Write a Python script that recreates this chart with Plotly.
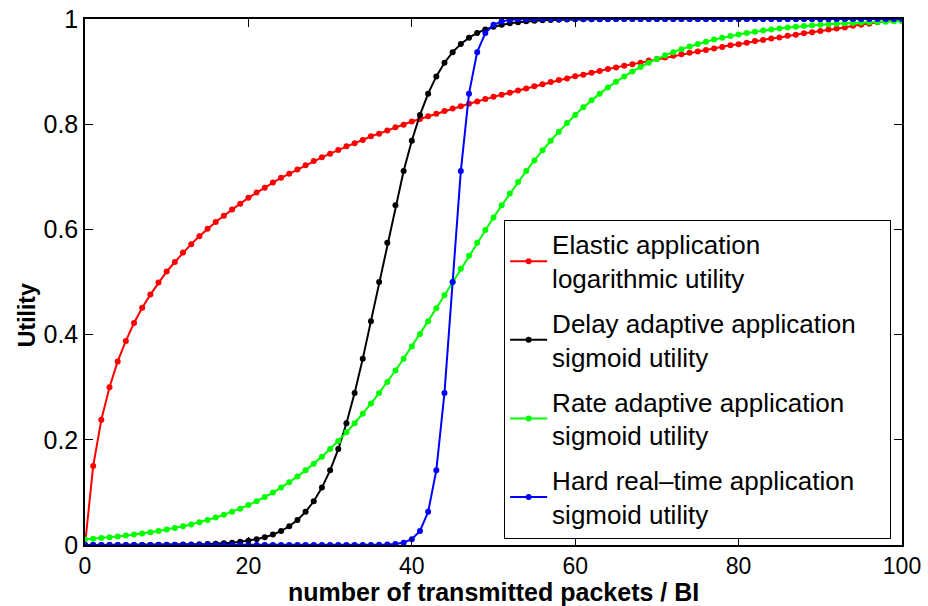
import plotly.graph_objects as go

x_values = list(range(0, 101))

elastic_log = [
    0.000, 0.150, 0.238, 0.300, 0.349, 0.388, 0.422, 0.451, 0.476, 0.499,
    0.520, 0.538, 0.556, 0.572, 0.587, 0.601, 0.614, 0.626, 0.638, 0.649,
    0.660, 0.670, 0.679, 0.689, 0.698, 0.706, 0.714, 0.722, 0.730, 0.737,
    0.744, 0.751, 0.758, 0.764, 0.770, 0.777, 0.782, 0.788, 0.794, 0.799,
    0.805, 0.810, 0.815, 0.820, 0.825, 0.830, 0.834, 0.839, 0.843, 0.848,
    0.852, 0.856, 0.860, 0.864, 0.868, 0.872, 0.876, 0.880, 0.884, 0.887,
    0.891, 0.894, 0.898, 0.901, 0.905, 0.908, 0.911, 0.914, 0.917, 0.921,
    0.924, 0.927, 0.930, 0.933, 0.936, 0.938, 0.941, 0.944, 0.947, 0.950,
    0.952, 0.955, 0.958, 0.960, 0.963, 0.965, 0.968, 0.970, 0.973, 0.975,
    0.977, 0.980, 0.982, 0.984, 0.987, 0.989, 0.991, 0.994, 0.996, 0.998,
    1.000,
]

delay_sigmoid = [
    0.0000, 0.0000, 0.0000, 0.0001, 0.0001, 0.0001, 0.0001, 0.0002, 0.0002, 0.0003,
    0.0004, 0.0006, 0.0008, 0.0010, 0.0014, 0.0018, 0.0025, 0.0033, 0.0045, 0.0061,
    0.0082, 0.0110, 0.0148, 0.0198, 0.0266, 0.0356, 0.0474, 0.0630, 0.0832, 0.1091,
    0.1419, 0.1824, 0.2315, 0.2891, 0.3543, 0.4256, 0.5000, 0.5744, 0.6457, 0.7109,
    0.7685, 0.8176, 0.8581, 0.8909, 0.9168, 0.9370, 0.9526, 0.9644, 0.9734, 0.9802,
    0.9852, 0.9890, 0.9918, 0.9939, 0.9955, 0.9967, 0.9975, 0.9982, 0.9986, 0.9990,
    0.9993, 0.9994, 0.9996, 0.9997, 0.9998, 0.9998, 0.9999, 0.9999, 0.9999, 0.9999,
    1.0000, 1.0000, 1.0000, 1.0000, 1.0000, 1.0000, 1.0000, 1.0000, 1.0000, 1.0000,
    1.0000, 1.0000, 1.0000, 1.0000, 1.0000, 1.0000, 1.0000, 1.0000, 1.0000, 1.0000,
    1.0000, 1.0000, 1.0000, 1.0000, 1.0000, 1.0000, 1.0000, 1.0000, 1.0000, 1.0000,
    1.0000,
]

rate_sigmoid = [
    0.0110, 0.0121, 0.0134, 0.0148, 0.0163, 0.0180, 0.0198, 0.0219, 0.0241, 0.0266,
    0.0293, 0.0323, 0.0356, 0.0392, 0.0431, 0.0474, 0.0522, 0.0573, 0.0630, 0.0691,
    0.0759, 0.0832, 0.0911, 0.0998, 0.1091, 0.1192, 0.1301, 0.1419, 0.1545, 0.1680,
    0.1824, 0.1978, 0.2142, 0.2315, 0.2497, 0.2689, 0.2891, 0.3100, 0.3318, 0.3543,
    0.3775, 0.4013, 0.4256, 0.4502, 0.4750, 0.5000, 0.5250, 0.5498, 0.5744, 0.5987,
    0.6225, 0.6457, 0.6682, 0.6900, 0.7109, 0.7311, 0.7503, 0.7685, 0.7858, 0.8022,
    0.8176, 0.8320, 0.8455, 0.8581, 0.8699, 0.8808, 0.8909, 0.9002, 0.9089, 0.9168,
    0.9241, 0.9309, 0.9370, 0.9427, 0.9478, 0.9526, 0.9569, 0.9608, 0.9644, 0.9677,
    0.9707, 0.9734, 0.9759, 0.9781, 0.9802, 0.9820, 0.9837, 0.9852, 0.9866, 0.9879,
    0.9890, 0.9900, 0.9910, 0.9918, 0.9926, 0.9933, 0.9939, 0.9945, 0.9950, 0.9955,
    0.9959,
]

hard_sigmoid = [
    0.0000, 0.0000, 0.0000, 0.0000, 0.0000, 0.0000, 0.0000, 0.0000, 0.0000, 0.0000,
    0.0000, 0.0000, 0.0000, 0.0000, 0.0000, 0.0000, 0.0000, 0.0000, 0.0000, 0.0000,
    0.0000, 0.0000, 0.0000, 0.0000, 0.0000, 0.0000, 0.0000, 0.0000, 0.0000, 0.0000,
    0.0000, 0.0000, 0.0000, 0.0000, 0.0001, 0.0001, 0.0003, 0.0008, 0.0018, 0.0045,
    0.0110, 0.0266, 0.0630, 0.1419, 0.2891, 0.5000, 0.7109, 0.8581, 0.9370, 0.9734,
    0.9890, 0.9955, 0.9982, 0.9993, 0.9997, 0.9999, 1.0000, 1.0000, 1.0000, 1.0000,
    1.0000, 1.0000, 1.0000, 1.0000, 1.0000, 1.0000, 1.0000, 1.0000, 1.0000, 1.0000,
    1.0000, 1.0000, 1.0000, 1.0000, 1.0000, 1.0000, 1.0000, 1.0000, 1.0000, 1.0000,
    1.0000, 1.0000, 1.0000, 1.0000, 1.0000, 1.0000, 1.0000, 1.0000, 1.0000, 1.0000,
    1.0000, 1.0000, 1.0000, 1.0000, 1.0000, 1.0000, 1.0000, 1.0000, 1.0000, 1.0000,
    1.0000,
]

series_names = [
    "Elastic application<br>logarithmic utility",
    "Delay adaptive application\u00a0\u00a0\u00a0\u00a0<br>sigmoid utility",
    "Rate adaptive application<br>sigmoid utility",
    "Hard real\u2013time application<br>sigmoid utility",
]
series_values = [elastic_log, delay_sigmoid, rate_sigmoid, hard_sigmoid]
series_colors = ["#ff0000", "#000000", "#00ff00", "#0000ff"]

x_tick_values = [0, 20, 40, 60, 80, 100]
y_tick_values = [0, 0.2, 0.4, 0.6, 0.8, 1]
y_tick_labels = ["0", "0.2", "0.4", "0.6", "0.8", "1"]
x_title = "number of transmitted packets / BI"
y_title = "Utility"

FONT = "Liberation Sans, Arial, sans-serif"

fig = go.Figure()
for name, vals, col in zip(series_names, series_values, series_colors):
    fig.add_trace(go.Scatter(
        x=x_values, y=vals, name=name, mode="lines+markers",
        line=dict(color=col, width=2),
        marker=dict(color=col, size=6),
        legendgroup=name,
    ))

fig.update_layout(
    width=928, height=606,
    margin=dict(l=85, r=26, t=19, b=61),
    paper_bgcolor="white", plot_bgcolor="white",
    font=dict(family=FONT, size=25, color="black"),
    showlegend=True,
    legend=dict(
        x=0.513, y=0.618, xanchor="left", yanchor="top",
        bgcolor="white", bordercolor="black", borderwidth=1,
        font=dict(family=FONT, size=26, color="black"),
        tracegroupgap=8,
        itemwidth=37,
    ),
    xaxis=dict(
        range=[0, 100], tickvals=x_tick_values, ticktext=[str(v) for v in x_tick_values],
        ticks="inside", ticklen=8, tickcolor="black", tickwidth=1,
        showline=True, linecolor="black", linewidth=1.5, mirror="ticks",
        showgrid=False, zeroline=False, automargin=False,
        tickfont=dict(size=23),
    ),
    yaxis=dict(
        range=[0, 1], tickvals=y_tick_values, ticktext=y_tick_labels,
        ticks="inside", ticklen=8, tickcolor="black", tickwidth=1,
        showline=True, linecolor="black", linewidth=1.5, mirror="ticks",
        showgrid=False, zeroline=False, automargin=False,
        tickfont=dict(size=25),
    ),
    annotations=[
        dict(text="<b>%s</b>" % x_title, xref="paper", yref="paper", x=0.5, y=0,
             xanchor="center", yanchor="top", yshift=-32, borderpad=0, showarrow=False,
             font=dict(family=FONT, size=25, color="black")),
        dict(text="<b>%s</b>" % y_title, xref="paper", yref="paper", x=-0.071, y=0.437,
             xanchor="center", yanchor="middle", textangle=-90, showarrow=False,
             font=dict(family=FONT, size=23, color="black")),
    ],
)

fig.write_html("out.html", config={"displayModeBar": False},
               post_script="document.body.style.margin='0px';")
